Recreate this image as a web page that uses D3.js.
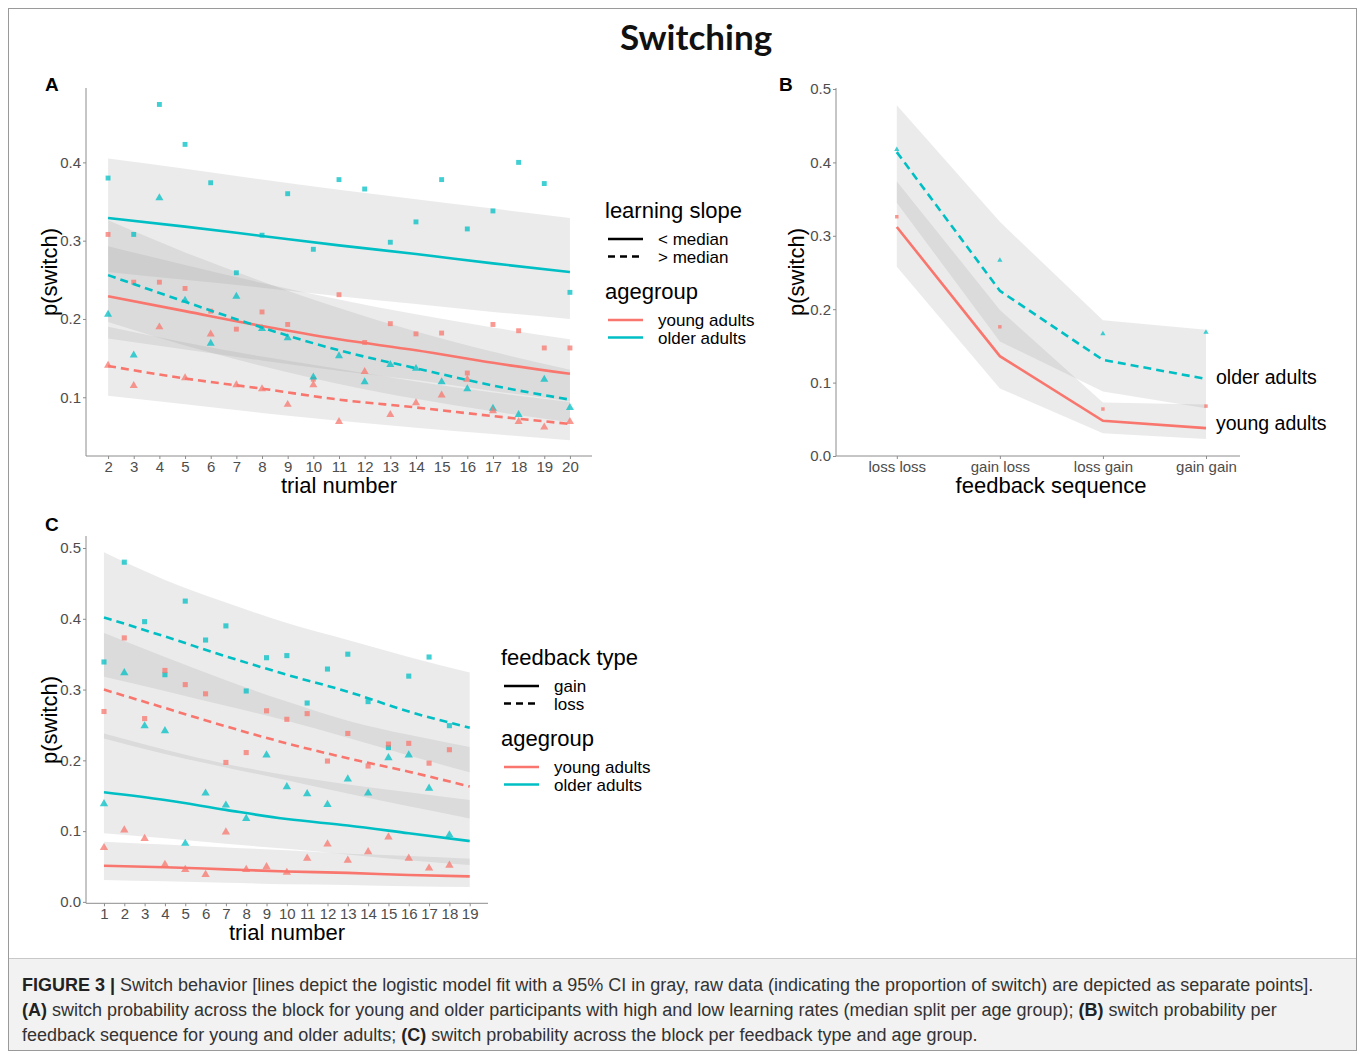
<!DOCTYPE html>
<html>
<head>
<meta charset="utf-8">
<script src="https://cdn.jsdelivr.net/npm/d3@7"></script>
<style>
  body { margin: 0; background: #fff; }
  text { font-family: "Liberation Sans", Arial, sans-serif; }
  .tick text { fill: #4d4d4d; font-size: 15px; }
  .tick line, .domain { stroke: #8c8c8c; }
</style>
</head>
<body>
<svg id="fig" width="1360" height="1054"></svg>
<script>
// colours of the two age groups
var RED = '#F8766D', CYAN = '#00BFC4';

// ---------- panel A: trial number x learning slope x agegroup ----------
var trialsA = [2, 3, 4, 5, 6, 7, 8, 9, 10, 11, 12, 13, 14, 15, 16, 17, 18, 19, 20];
var ticksA = [0.1, 0.2, 0.3, 0.4];
// observed proportions
var aOldLowObs   = [0.380, 0.308, 0.474, 0.423, 0.374, 0.259, 0.307, 0.360, 0.289, 0.378, 0.366, 0.298, 0.324, 0.378, 0.315, 0.338, 0.400, 0.373, 0.234];
var aYoungLowObs = [0.308, 0.247, 0.247, 0.239, 0.210, 0.187, 0.209, 0.193, 0.123, 0.231, 0.170, 0.194, 0.181, 0.182, 0.131, 0.193, 0.185, 0.163, 0.163];
var aOldHighObs  = [0.207, 0.155, 0.356, 0.225, 0.170, 0.230, 0.189, 0.177, 0.127, 0.154, 0.121, 0.143, 0.138, 0.121, 0.112, 0.087, 0.079, 0.124, 0.088];
var aYoungHighObs= [0.142, 0.116, 0.191, 0.126, 0.182, 0.117, 0.112, 0.092, 0.117, 0.070, 0.134, 0.079, 0.094, 0.104, 0.124, 0.084, 0.070, 0.063, 0.070];
// model fits
var fitTrialsA = [2, 5, 8, 11, 14, 17, 20];
var aOldLowFit    = [0.329, 0.318, 0.306, 0.294, 0.283, 0.271, 0.260];
var aOldLowHi     = [0.405, 0.392, 0.378, 0.365, 0.353, 0.341, 0.329];
var aOldLowLo     = [0.260, 0.250, 0.240, 0.229, 0.219, 0.209, 0.200];
var aOldHighFit   = [0.256, 0.222, 0.189, 0.160, 0.137, 0.115, 0.097];
var aOldHighHi    = [0.326, 0.285, 0.248, 0.214, 0.184, 0.158, 0.135];
var aOldHighLo    = [0.196, 0.166, 0.140, 0.117, 0.098, 0.082, 0.068];
var aYoungLowFit  = [0.229, 0.210, 0.191, 0.174, 0.160, 0.144, 0.130];
var aYoungLowHi   = [0.293, 0.269, 0.246, 0.225, 0.206, 0.189, 0.174];
var aYoungLowLo   = [0.175, 0.161, 0.147, 0.134, 0.122, 0.108, 0.095];
var aYoungHighFit = [0.140, 0.124, 0.111, 0.097, 0.087, 0.076, 0.066];
var aYoungHighHi  = [0.190, 0.170, 0.152, 0.136, 0.120, 0.106, 0.094];
var aYoungHighLo  = [0.102, 0.091, 0.080, 0.070, 0.061, 0.053, 0.045];

// ---------- panel B: feedback sequence ----------
var bCats = ['loss loss', 'gain loss', 'loss gain', 'gain gain'];
var ticksB = [0.0, 0.1, 0.2, 0.3, 0.4, 0.5];
var bOldFit   = [0.414, 0.225, 0.131, 0.105];
var bOldHi    = [0.478, 0.319, 0.185, 0.172];
var bOldLo    = [0.345, 0.156, 0.088, 0.065];
var bYoungFit = [0.312, 0.136, 0.048, 0.038];
var bYoungHi  = [0.374, 0.199, 0.073, 0.070];
var bYoungLo  = [0.258, 0.092, 0.031, 0.023];
var bOldObs   = [0.419, 0.268, 0.168, 0.170];
var bYoungObs = [0.326, 0.176, 0.064, 0.068];

// ---------- panel C: trial number x feedback type x agegroup ----------
var trialsC = [1, 2, 3, 4, 5, 6, 7, 8, 9, 10, 11, 12, 13, 14, 15, 16, 17, 18];
var tickTrialsC = [1, 2, 3, 4, 5, 6, 7, 8, 9, 10, 11, 12, 13, 14, 15, 16, 17, 18, 19];
var ticksC = [0.0, 0.1, 0.2, 0.3, 0.4, 0.5];
var cOldLossObs   = [0.339, 0.480, 0.396, 0.321, 0.425, 0.370, 0.390, 0.298, 0.345, 0.348, 0.281, 0.329, 0.350, 0.283, 0.218, 0.319, 0.346, 0.249];
var cYoungLossObs = [0.269, 0.373, 0.259, 0.327, 0.307, 0.294, 0.197, 0.211, 0.270, 0.258, 0.266, 0.199, 0.238, 0.192, 0.223, 0.224, 0.196, 0.215];
var cOldGainObs   = [0.140, 0.325, 0.250, 0.243, 0.084, 0.155, 0.138, 0.119, 0.209, 0.164, 0.154, 0.139, 0.175, 0.155, 0.205, 0.209, 0.162, 0.096];
var cYoungGainObs = [0.078, 0.103, 0.091, 0.054, 0.047, 0.040, 0.100, 0.047, 0.051, 0.043, 0.063, 0.083, 0.060, 0.072, 0.093, 0.063, 0.049, 0.053];
var fitTrialsC = [1, 4, 7, 10, 13, 16, 19];
var cOldLossFit   = [0.402, 0.375, 0.347, 0.321, 0.297, 0.269, 0.246];
var cOldLossHi    = [0.494, 0.455, 0.423, 0.394, 0.370, 0.346, 0.324];
var cOldLossLo    = [0.318, 0.298, 0.277, 0.256, 0.232, 0.207, 0.183];
var cYoungLossFit = [0.300, 0.274, 0.248, 0.224, 0.203, 0.184, 0.163];
var cYoungLossHi  = [0.380, 0.346, 0.313, 0.283, 0.256, 0.236, 0.219];
var cYoungLossLo  = [0.231, 0.209, 0.190, 0.172, 0.153, 0.135, 0.118];
var cOldGainFit   = [0.155, 0.144, 0.130, 0.117, 0.108, 0.097, 0.086];
var cOldGainHi    = [0.238, 0.215, 0.195, 0.179, 0.166, 0.155, 0.144];
var cOldGainLo    = [0.097, 0.090, 0.082, 0.075, 0.067, 0.059, 0.052];
var cYoungGainFit = [0.051, 0.049, 0.046, 0.043, 0.041, 0.038, 0.036];
var cYoungGainHi  = [0.085, 0.081, 0.077, 0.073, 0.068, 0.065, 0.061];
var cYoungGainLo  = [0.031, 0.029, 0.027, 0.025, 0.024, 0.022, 0.021];

var captionLines = [
  [['FIGURE 3 |', true], [' Switch behavior [lines depict the logistic model fit with a 95% CI in gray, raw data (indicating the proportion of switch) are depicted as separate points].', false]],
  [['(A)', true], [' switch probability across the block for young and older participants with high and low learning rates (median split per age group); ', false], ['(B)', true], [' switch probability per', false]],
  [['feedback sequence for young and older adults; ', false], ['(C)', true], [' switch probability across the block per feedback type and age group.', false]]
];

var svg = d3.select('#fig');

// frame and caption box
svg.append('rect').attr('x', 8.5).attr('y', 8.5).attr('width', 1348).attr('height', 1042)
   .attr('fill', 'none').attr('stroke', '#9a9a9a');
svg.append('rect').attr('x', 9).attr('y', 959).attr('width', 1347).attr('height', 91)
   .attr('fill', '#f2f2f2');
svg.append('line').attr('x1', 9).attr('x2', 1356).attr('y1', 958.5).attr('y2', 958.5)
   .attr('stroke', '#c8c8c8');

svg.append('text').attr('x', 696).attr('y', 50).attr('text-anchor', 'middle')
   .style('font-family', 'Lato, "Open Sans", sans-serif').style('font-weight', 700)
   .style('font-size', '35px').attr('fill', '#111').text('Switching');

function band(g, x, y, xs, lo, hi, curve) {
    var area = d3.area().curve(curve)
        .x(function (d, i) { return x(xs[i]); })
        .y0(function (d, i) { return y(lo[i]); })
        .y1(function (d, i) { return y(hi[i]); });
    g.append('path').attr('d', area(xs)).attr('fill', '#999').attr('fill-opacity', 0.2);
}

function fitLine(g, x, y, xs, vals, colour, dashed, curve) {
    var line = d3.line().curve(curve)
        .x(function (d, i) { return x(xs[i]); })
        .y(function (d) { return y(d); });
    g.append('path').attr('d', line(vals)).attr('fill', 'none')
     .attr('stroke', colour).attr('stroke-width', 2.6)
     .attr('stroke-dasharray', dashed ? '8,5' : null);
}

function points(g, x, y, xs, vals, colour, shape, size) {
    var sym = d3.symbol().type(shape).size(size);
    g.selectAll(null).data(vals).enter().append('path')
     .attr('d', sym)
     .attr('transform', function (d, i) {
        var dy = shape === d3.symbolTriangle ? 1 : 0;
        return 'translate(' + x(xs[i]) + ',' + (y(d) + dy) + ')';
     })
     .attr('fill', colour).attr('fill-opacity', 0.75);
}

function axes(g, x, y, xTicks, yTicks, xFmt, top, bottom, left, right) {
    var ax = g.append('g').attr('transform', 'translate(0,' + bottom + ')')
        .call(d3.axisBottom(x).tickValues(xTicks).tickSize(3).tickPadding(2)
              .tickSizeOuter(0).tickFormat(xFmt));
    var ay = g.append('g').attr('transform', 'translate(' + left + ',0)')
        .call(d3.axisLeft(y).tickValues(yTicks).tickSize(3).tickPadding(2)
              .tickSizeOuter(0).tickFormat(d3.format('.1f')));
    ax.select('.domain').attr('d', 'M' + left + ',0H' + right);
    ay.select('.domain').attr('d', 'M0,' + top + 'V' + bottom);
    ax.selectAll('text').style('font-family', '"Liberation Sans", Arial, sans-serif');
    ay.selectAll('text').style('font-family', '"Liberation Sans", Arial, sans-serif');
}

function label(x, y, txt, size, opts) {
    opts = opts || {};
    var t = svg.append('text').attr('x', x).attr('y', y).text(txt)
        .style('font-size', size + 'px').attr('fill', '#000');
    if (opts.anchor) t.attr('text-anchor', opts.anchor);
    if (opts.bold) t.style('font-weight', 700);
    if (opts.rotate) t.attr('transform', 'rotate(-90,' + x + ',' + y + ')');
    return t;
}

function legend(x0, y0, title1, names1, title2, names2) {
    label(x0, y0, title1, 22);
    var keyX = x0 + 3;
    [false, true].forEach(function (dashed, i) {
        var yy = y0 + 21 + i * 17.5;
        svg.append('line').attr('x1', keyX).attr('x2', keyX + 35).attr('y1', yy).attr('y2', yy)
           .attr('stroke', '#000').attr('stroke-width', 2.6)
           .attr('stroke-dasharray', dashed ? '7,5' : null);
        label(x0 + 53, yy + 6, names1[i], 17);
    });
    label(x0, y0 + 81, title2, 22);
    [RED, CYAN].forEach(function (c, i) {
        var yy = y0 + 102 + i * 17.5;
        svg.append('line').attr('x1', keyX).attr('x2', keyX + 35).attr('y1', yy).attr('y2', yy)
           .attr('stroke', c).attr('stroke-width', 2.6);
        label(x0 + 53, yy + 6, names2[i], 17);
    });
}

var curve = d3.curveMonotoneX;

// ===== panel A =====
(function () {
    var x = d3.scaleLinear().domain([1.14, 20.86]).range([86, 592]);
    var y = d3.scaleLinear().domain([0.025, 0.495]).range([456, 88]);
    var g = svg.append('g');
    band(g, x, y, fitTrialsA, aOldLowLo, aOldLowHi, curve);
    band(g, x, y, fitTrialsA, aOldHighLo, aOldHighHi, curve);
    band(g, x, y, fitTrialsA, aYoungLowLo, aYoungLowHi, curve);
    band(g, x, y, fitTrialsA, aYoungHighLo, aYoungHighHi, curve);
    points(g, x, y, trialsA, aOldLowObs, CYAN, d3.symbolSquare, 24);
    points(g, x, y, trialsA, aYoungLowObs, RED, d3.symbolSquare, 24);
    points(g, x, y, trialsA, aOldHighObs, CYAN, d3.symbolTriangle, 28);
    points(g, x, y, trialsA, aYoungHighObs, RED, d3.symbolTriangle, 28);
    fitLine(g, x, y, fitTrialsA, aOldLowFit, CYAN, false, curve);
    fitLine(g, x, y, fitTrialsA, aYoungLowFit, RED, false, curve);
    fitLine(g, x, y, fitTrialsA, aOldHighFit, CYAN, true, curve);
    fitLine(g, x, y, fitTrialsA, aYoungHighFit, RED, true, curve);
    axes(g, x, y, trialsA, ticksA, d3.format('d'), 88, 456, 86, 592);
    label(339, 493, 'trial number', 22, { anchor: 'middle' });
    label(57, 272, 'p(switch)', 22, { anchor: 'middle', rotate: true });
    label(45, 91, 'A', 19, { bold: true });
    legend(605, 218, 'learning slope', ['< median', '> median'], 'agegroup', ['young adults', 'older adults']);
})();

// ===== panel B =====
(function () {
    var idx = bCats.map(function (d, i) { return i; });
    var x = d3.scaleLinear().domain([-0.59, 3.33]).range([836, 1240]);
    var y = d3.scaleLinear().domain([0, 0.5]).range([456, 89]);
    var g = svg.append('g');
    var lin = d3.curveLinear;
    band(g, x, y, idx, bOldLo, bOldHi, lin);
    band(g, x, y, idx, bYoungLo, bYoungHi, lin);
    points(g, x, y, idx, bOldObs, CYAN, d3.symbolTriangle, 12);
    points(g, x, y, idx, bYoungObs, RED, d3.symbolSquare, 12);
    fitLine(g, x, y, idx, bOldFit, CYAN, true, lin);
    fitLine(g, x, y, idx, bYoungFit, RED, false, lin);
    axes(g, x, y, idx, ticksB, function (i) { return bCats[i]; }, 88, 456, 836, 1240);
    label(1051, 493, 'feedback sequence', 22, { anchor: 'middle' });
    label(804, 272, 'p(switch)', 22, { anchor: 'middle', rotate: true });
    label(779, 91, 'B', 19, { bold: true });
    label(x(3) + 10, y(bOldFit[3]) + 5, 'older adults', 19.5);
    label(x(3) + 10, y(bYoungFit[3]) + 2, 'young adults', 19.5);
})();

// ===== panel C =====
(function () {
    var x = d3.scaleLinear().domain([0.115, 19.9]).range([86, 488]);
    var y = d3.scaleLinear().domain([-0.002, 0.517]).range([903.3, 536]);
    var g = svg.append('g');
    band(g, x, y, fitTrialsC, cOldLossLo, cOldLossHi, curve);
    band(g, x, y, fitTrialsC, cYoungLossLo, cYoungLossHi, curve);
    band(g, x, y, fitTrialsC, cOldGainLo, cOldGainHi, curve);
    band(g, x, y, fitTrialsC, cYoungGainLo, cYoungGainHi, curve);
    points(g, x, y, trialsC, cOldLossObs, CYAN, d3.symbolSquare, 26);
    points(g, x, y, trialsC, cYoungLossObs, RED, d3.symbolSquare, 26);
    points(g, x, y, trialsC, cOldGainObs, CYAN, d3.symbolTriangle, 30);
    points(g, x, y, trialsC, cYoungGainObs, RED, d3.symbolTriangle, 30);
    fitLine(g, x, y, fitTrialsC, cOldLossFit, CYAN, true, curve);
    fitLine(g, x, y, fitTrialsC, cYoungLossFit, RED, true, curve);
    fitLine(g, x, y, fitTrialsC, cOldGainFit, CYAN, false, curve);
    fitLine(g, x, y, fitTrialsC, cYoungGainFit, RED, false, curve);
    axes(g, x, y, tickTrialsC, ticksC, d3.format('d'), 536, 903.3, 86, 488);
    label(287, 940, 'trial number', 22, { anchor: 'middle' });
    label(57, 720, 'p(switch)', 22, { anchor: 'middle', rotate: true });
    label(45, 531, 'C', 19, { bold: true });
    legend(501, 665, 'feedback type', ['gain', 'loss'], 'agegroup', ['young adults', 'older adults']);
})();

// caption
captionLines.forEach(function (parts, li) {
    var t = svg.append('text').attr('x', 22).attr('y', 991 + li * 25)
        .style('font-size', '18px').attr('fill', '#333');
    parts.forEach(function (p) {
        t.append('tspan').text(p[0]).style('font-weight', p[1] ? 700 : 400)
         .attr('fill', p[1] ? '#222' : '#333');
    });
});
</script>
</body>
</html>
